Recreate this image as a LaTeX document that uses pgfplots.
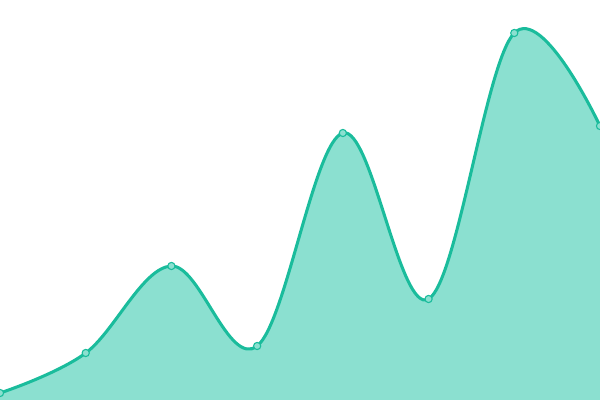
\documentclass[border=0pt]{standalone}
\usepackage{pgfplots}
\pgfplotsset{compat=1.18}
\definecolor{lineteal}{RGB}{26,188,156}
\definecolor{fillteal}{RGB}{139,224,208}
\begin{document}
\begin{tikzpicture}
\begin{axis}[
  at={(0,0)}, anchor=south west,
  width=6in, height=4in, scale only axis,
  hide axis,
  xmin=0, xmax=7, ymin=0, ymax=400,
]
\addplot[draw=none, fill=fillteal, smooth, tension=0.6] coordinates {
  (0,7) (1,47) (2,134) (3,54) (4,267) (5,101) (6,367) (7,274)
} \closedcycle;
\addplot[lineteal, line width=2.2pt, smooth, tension=0.6,
  mark=*, mark size=2.6pt,
  mark options={fill=fillteal, draw=lineteal, line width=0.8pt}] coordinates {
  (0,7) (1,47) (2,134) (3,54) (4,267) (5,101) (6,367) (7,274)
};
\end{axis}
\pgfresetboundingbox
\path (0,0) rectangle (6in,4in);
\end{tikzpicture}
\end{document}
